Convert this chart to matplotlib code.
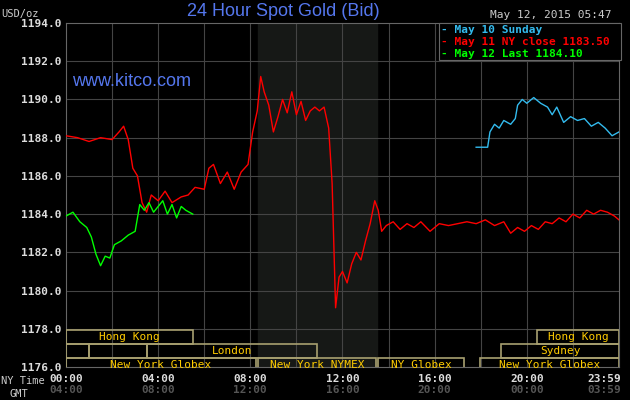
import matplotlib.pyplot as plt
import matplotlib.patches as mpatches

# May 11 (red)
red_h = [0, 0.5, 1, 1.5, 2, 2.3, 2.5, 2.7, 2.9, 3.1, 3.3, 3.5, 3.7, 4, 4.3, 4.6, 5, 5.3, 5.6, 6, 6.2, 6.4, 6.7, 7, 7.3, 7.6, 7.9, 8.1, 8.3, 8.45, 8.6, 8.8, 9, 9.2, 9.4, 9.6, 9.8, 10, 10.2, 10.4, 10.6, 10.8, 11, 11.2, 11.4, 11.55, 11.7, 11.85, 12, 12.2, 12.4, 12.6, 12.8, 13, 13.2, 13.4, 13.55, 13.7, 13.9, 14.2, 14.5, 14.8, 15.1, 15.4, 15.8, 16.2, 16.6, 17, 17.4, 17.8, 18.2, 18.6, 19, 19.3, 19.6, 19.9, 20.2, 20.5, 20.8, 21.1, 21.4, 21.7, 22, 22.3, 22.6, 22.9, 23.2, 23.5, 23.8, 24]
red_v = [1188.1, 1188.0, 1187.8, 1188.0, 1187.9, 1188.3, 1188.6, 1187.9, 1186.4, 1186.0, 1184.6, 1184.1, 1185.0, 1184.7, 1185.2, 1184.6, 1184.9, 1185.0, 1185.4, 1185.3, 1186.4, 1186.6, 1185.6, 1186.2, 1185.3, 1186.2, 1186.6, 1188.3, 1189.4, 1191.2, 1190.4, 1189.7, 1188.3, 1189.1, 1190.0, 1189.3, 1190.4, 1189.2, 1189.9, 1188.9, 1189.4, 1189.6, 1189.4, 1189.6, 1188.5, 1185.6, 1179.1, 1180.7, 1181.0, 1180.4, 1181.4, 1182.0, 1181.6, 1182.6, 1183.5, 1184.7, 1184.2, 1183.1, 1183.4, 1183.6, 1183.2, 1183.5, 1183.3, 1183.6, 1183.1, 1183.5, 1183.4, 1183.5, 1183.6, 1183.5, 1183.7, 1183.4, 1183.6, 1183.0, 1183.3, 1183.1, 1183.4, 1183.2, 1183.6, 1183.5, 1183.8, 1183.6, 1184.0, 1183.8, 1184.2, 1184.0, 1184.2, 1184.1, 1183.9, 1183.7]

# May 10 Sunday (cyan)
cyan_h = [17.8, 18.3, 18.4, 18.6, 18.8, 19.0, 19.3, 19.5, 19.6, 19.8, 20.0, 20.3, 20.6, 20.9, 21.1, 21.3, 21.6, 21.9, 22.2, 22.5, 22.8, 23.1, 23.4, 23.7, 24]
cyan_v = [1187.5, 1187.5, 1188.3, 1188.7, 1188.5, 1188.9, 1188.7, 1189.0, 1189.7, 1190.0, 1189.8, 1190.1, 1189.8, 1189.6, 1189.2, 1189.6, 1188.8, 1189.1, 1188.9, 1189.0, 1188.6, 1188.8, 1188.5, 1188.1, 1188.3]

# May 12 (green)
green_h = [0, 0.3, 0.6, 0.9, 1.1, 1.3, 1.5, 1.7, 1.9, 2.1, 2.4, 2.7, 3.0, 3.2, 3.4, 3.6, 3.8, 4.0, 4.2, 4.4, 4.6, 4.8, 5.0, 5.2, 5.5]
green_v = [1183.9, 1184.1, 1183.6, 1183.3, 1182.8, 1181.9, 1181.3, 1181.8, 1181.7, 1182.4, 1182.6, 1182.9, 1183.1, 1184.5, 1184.2, 1184.6, 1184.1, 1184.4, 1184.7, 1184.0, 1184.5, 1183.8, 1184.4, 1184.2, 1184.0]

hour_ticks = [0, 4, 8, 12, 16, 20, 24]
ny_labels = ['00:00', '04:00', '08:00', '12:00', '16:00', '20:00', '23:59']
gmt_labels = ['04:00', '08:00', '12:00', '16:00', '20:00', '00:00', '03:59']

# sessions: (row, start, end, label)
sessions = [
    (0, 0, 5.5, 'Hong Kong'), (0, 20.45, 24, 'Hong Kong'),
    (1, 0, 1.0, ''), (1, 1.0, 3.5, ''), (1, 3.5, 10.9, 'London'), (1, 18.9, 24, 'Sydney'),
    (2, 0, 8.25, 'New York Globex'), (2, 8.33, 13.45, 'New York NYMEX'),
    (2, 13.55, 17.27, 'NY Globex'), (2, 17.97, 24, 'New York Globex'),
]

mono = 'DejaVu Sans Mono'
fig = plt.figure(figsize=(6.3, 4), dpi=100, facecolor='black')
ax = fig.add_axes([0.1048, 0.0825, 0.8777, 0.86])
ax.set_facecolor('black')
ax.set_xlim(0, 24)
ax.set_ylim(1176, 1194)
ax.axvspan(8.35, 13.5, color='#161816', zorder=0)
for h in range(2, 24, 2):
    ax.axvline(h, color='#444444', lw=0.8, zorder=1)
for v in range(1178, 1194, 2):
    ax.axhline(v, color='#444444', lw=0.8, zorder=1)
for s in ax.spines.values():
    s.set_color('#666666')

ax.plot(cyan_h, cyan_v, color='#33bbee', lw=1, zorder=3)
ax.plot(red_h, red_v, color='#ff0000', lw=1, zorder=3)
ax.plot(green_h, green_v, color='#00ff00', lw=1, zorder=3)

row_h = 0.73
for row, a, b, lab in sessions:
    y0 = 1177.95 - row_h * (row + 1)
    ax.add_patch(mpatches.Rectangle((a, y0), b - a, row_h, fill=False,
                                    edgecolor='#a8a070', lw=1.2, zorder=4))
    if lab:
        ax.text((a + b) / 2, y0 + row_h / 2, lab, color='#ffcc00', fontsize=8,
                family=mono, ha='center', va='center', zorder=5)

ax.set_yticks(range(1176, 1195, 2))
ax.set_yticklabels([f'{v}.0' for v in range(1176, 1195, 2)], family=mono,
                   fontsize=8, color='#dddddd', fontweight='bold')
ax.set_xticks(hour_ticks)
ax.set_xticklabels([])
ax.tick_params(length=0, pad=3)
for h, a, b in zip(hour_ticks, ny_labels, gmt_labels):
    ha = 'right' if h == 24 else 'center'
    x = 24.1 if h == 24 else h
    ax.text(x, -0.035, a, transform=ax.get_xaxis_transform(), ha=ha, va='center',
            family=mono, fontsize=8, color='#dddddd', fontweight='bold')
    ax.text(x, -0.068, b, transform=ax.get_xaxis_transform(), ha=ha, va='center',
            family=mono, fontsize=8, color='#555555', fontweight='bold')
fig.text(0.002, 0.048, 'NY Time', family=mono, fontsize=7.5, color='#cccccc', va='center')
fig.text(0.015, 0.016, 'GMT', family=mono, fontsize=7.5, color='#cccccc', va='center')

fig.text(0.45, 0.97, '24 Hour Spot Gold (Bid)', color='#5577ee', fontsize=13,
         ha='center', va='center', family='Liberation Sans')
fig.text(0.002, 0.965, 'USD/oz', family=mono, fontsize=7.5, color='#cccccc', va='center')
fig.text(0.97, 0.962, 'May 12, 2015 05:47', family=mono, fontsize=8, color='#cccccc',
         ha='right', va='center')
ax.text(0.01, 0.83, 'www.kitco.com', transform=ax.transAxes, color='#5577ee',
        fontsize=13, family='Liberation Sans', va='center', zorder=5)

# legend box
ax.add_patch(mpatches.Rectangle((0.6745, 0.893), 0.33, 0.107, transform=ax.transAxes,
                                facecolor='black', edgecolor='#666666', lw=0.8, zorder=6, clip_on=False))
leg = [('May 10 Sunday', '#33bbee'), ('May 11 NY close 1183.50', '#ff0000'),
       ('May 12 Last 1184.10', '#00ff00')]
for i, (t, c) in enumerate(leg):
    ax.text(0.678, 0.981 - i * 0.036, '- ' + t, transform=ax.transAxes, color=c,
            fontsize=8, family=mono, fontweight='bold', va='center', zorder=7)

fig.savefig('out.png', dpi=100, facecolor='black')
